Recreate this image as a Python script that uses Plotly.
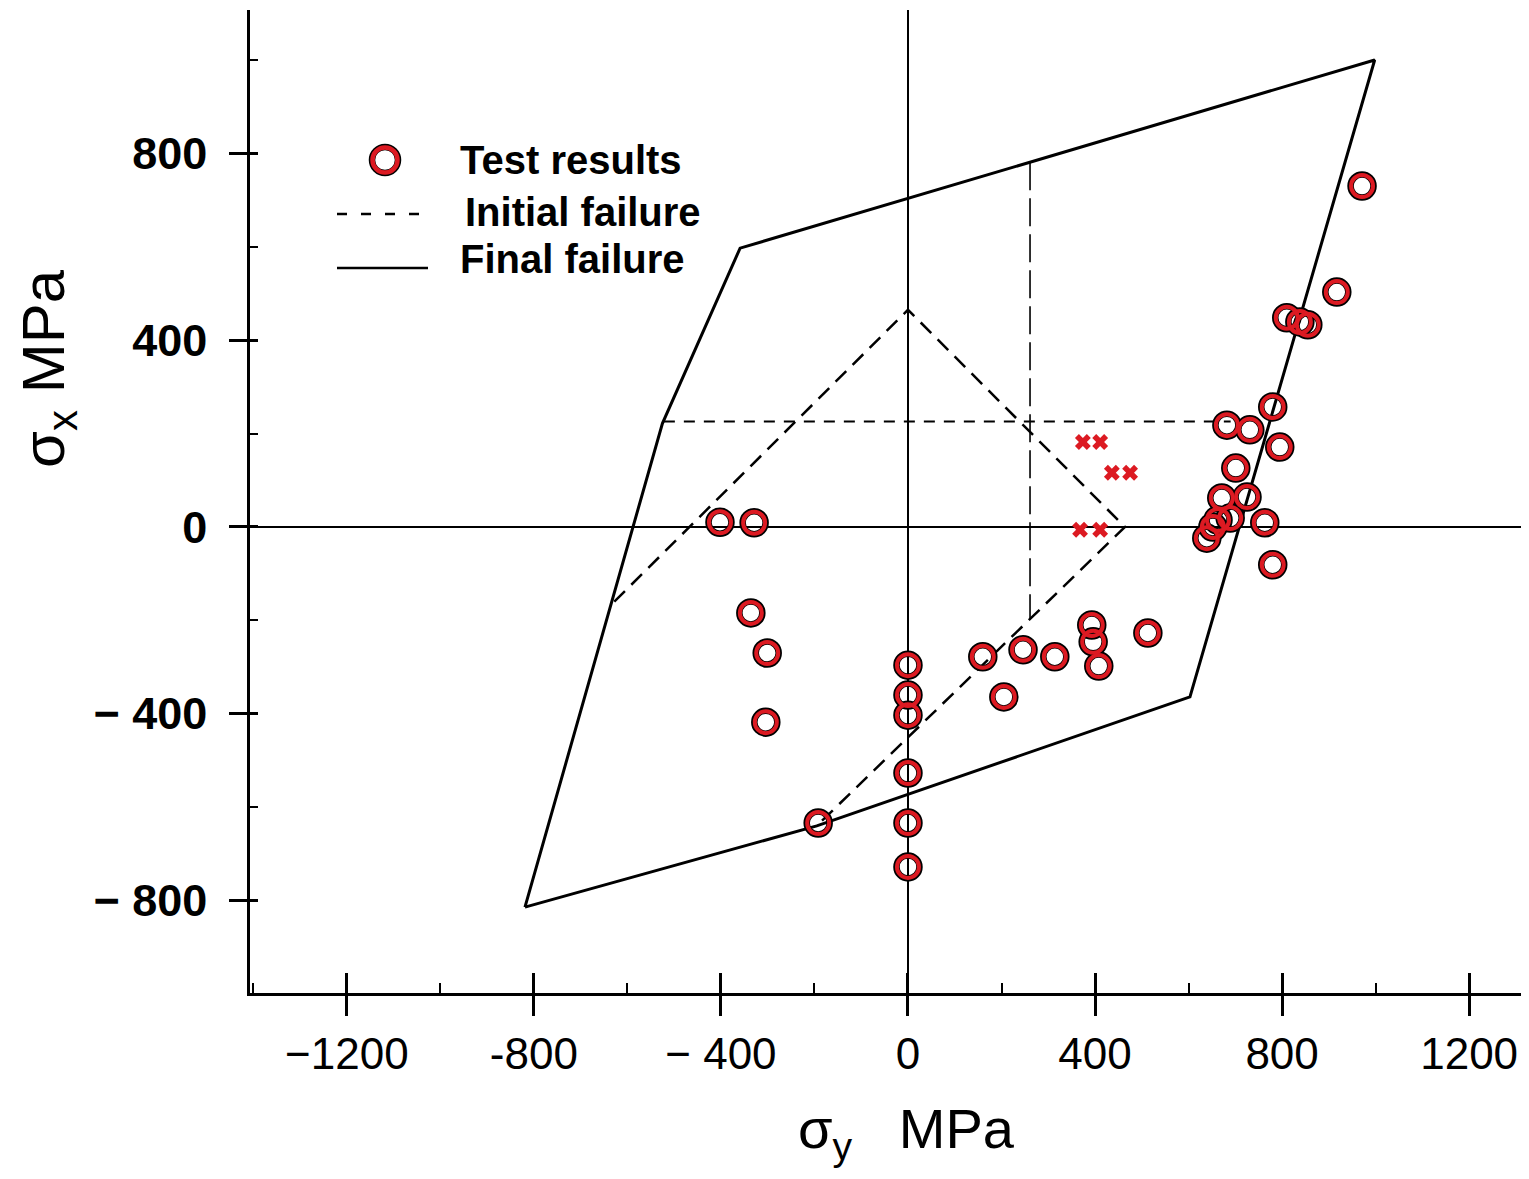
import plotly.graph_objects as go

# ---------------- data ----------------
# Final failure envelope (solid)
final_sy = [-819, -525, -359, 998, 603, -195, -819]
final_sx = [-814, 222, 597, 1000, -364, -640, -814]

# Initial failure envelope (dashed)
init_sy = [-628, 0, 464, -195]
init_sx = [-160, 465, 0, -640]

# Auxiliary dashed lines
hline_sy = [-522, 690]
hline_sx = [226, 226]
vline_sy = [261, 261]
vline_sx = [781, -197]

# Test results (open circles)
test_sy = [-402, -329, -336, -301, -304,
           0, 0, 0, 0, 0, 0,
           -192,
           160, 205, 246, 314, 393, 396, 408, 513,
           971, 917, 810, 838, 855, 780, 682, 731, 795, 701,
           671, 725, 689, 652, 639, 763, 780, 663]
test_sx = [10, 9, -184, -270, -418,
           -296, -360, -403, -527, -634, -728,
           -634,
           -278, -364, -263, -278, -210, -246, -298, -227,
           730, 503, 448, 439, 433, 257, 218, 208, 171, 126,
           62, 64, 19, 0, -24, 9, -81, 15]

# Red crosses
cross_sy = [374, 411, 436, 475, 368, 411]
cross_sx = [182, 182, 116, 116, -6, -6]

# Ticks
x_tick_vals = [-1200, -800, -400, 0, 400, 800, 1200]
x_tick_text = ["\u22121200", "-800", "\u2212 400", "0", "400", "800", "1200"]
y_tick_vals = [-800, -400, 0, 400, 800]
y_tick_text = ["\u2212 800", "\u2212 400", "0", "400", "800"]
x_minor_vals = [-1400, -1000, -600, -200, 200, 600, 1000]
y_minor_vals = [-1000, -600, -200, 200, 600, 1000]

legend_labels = ["Test results", "Initial failure", "Final failure"]
x_title = "\u03c3<sub>y</sub>\u00a0\u00a0\u00a0MPa"
y_title = "\u03c3<sub>x</sub>\u00a0MPa"

# ---------------- layout constants ----------------
# page offset of the figure (browser body margin)
OFF = 8
PAGE_W, PAGE_H = 1529, 1179
PLOT_L, PLOT_R, PLOT_T, PLOT_B = 250, 1529, 10, 993   # page pixels of plot area
W = PAGE_W - OFF
H = PAGE_H - OFF
ML = PLOT_L - OFF
MT = PLOT_T - OFF
MR = (W + OFF) - PLOT_R
MB = (H + OFF) - PLOT_B
XR = [-1407, 1328]
YR = [-998, 1107]
FONT = "Liberation Sans, Arial, Helvetica, sans-serif"
RED = "#dc1a22"
BLACK = "#000000"


def pxx(xp):
    return (xp - PLOT_L) / (PLOT_R - PLOT_L)


def pxy(yp):
    return (PLOT_B - yp) / (PLOT_B - PLOT_T)


fig = go.Figure()

# final failure
fig.add_trace(go.Scatter(x=final_sy, y=final_sx, mode="lines",
                         line=dict(color=BLACK, width=3), hoverinfo="skip"))
# initial failure
fig.add_trace(go.Scatter(x=init_sy, y=init_sx, mode="lines",
                         line=dict(color=BLACK, width=2.5, dash="15px,9px"), hoverinfo="skip"))
fig.add_trace(go.Scatter(x=hline_sy, y=hline_sx, mode="lines",
                         line=dict(color=BLACK, width=2, dash="11px,9px"), hoverinfo="skip"))
fig.add_trace(go.Scatter(x=vline_sy, y=vline_sx, mode="lines",
                         line=dict(color=BLACK, width=1.6, dash="28px,8px"), hoverinfo="skip"))

# test results: black halo + red ring
fig.add_trace(go.Scatter(x=test_sy, y=test_sx, mode="markers",
                         marker=dict(symbol="circle-open", size=23, color=BLACK,
                                     line=dict(color=BLACK, width=6.5))))
fig.add_trace(go.Scatter(x=test_sy, y=test_sx, mode="markers",
                         marker=dict(symbol="circle-open", size=22, color=RED,
                                     line=dict(color=RED, width=4))))

# red crosses (on overlay axes so those axes exist)
fig.add_trace(go.Scatter(x=cross_sy, y=cross_sx, mode="markers",
                         xaxis="x2", yaxis="y2",
                         marker=dict(symbol="x", size=14, color=RED,
                                     line=dict(width=0))))

fig.update_layout(
    width=W, height=H,
    margin=dict(l=ML, r=MR, t=MT, b=MB, pad=0),
    paper_bgcolor="white", plot_bgcolor="white",
    showlegend=False,
    xaxis=dict(range=XR, tickmode="array", tickvals=x_tick_vals, ticktext=x_tick_text,
               ticks="outside", ticklen=20, tickwidth=2.5, tickcolor=BLACK,
               showline=True, linecolor=BLACK, linewidth=2.5,
               showgrid=False, zeroline=True, zerolinecolor=BLACK, zerolinewidth=1.6,
               tickfont=dict(family=FONT, size=44, color=BLACK),
               ticklabelstandoff=0),
    xaxis2=dict(range=XR, overlaying="x", anchor="y", side="bottom",
                tickmode="array", tickvals=x_tick_vals, showticklabels=False,
                ticks="inside", ticklen=20, tickwidth=2.5, tickcolor=BLACK,
                showline=False, showgrid=False, zeroline=False,
                minor=dict(tickmode="array", tickvals=x_minor_vals, ticks="inside",
                           ticklen=10, tickwidth=2, tickcolor=BLACK)),
    yaxis=dict(range=YR, tickmode="array", tickvals=y_tick_vals, ticktext=y_tick_text,
               ticks="outside", ticklen=18, tickwidth=2.5, tickcolor=BLACK,
               showline=True, linecolor=BLACK, linewidth=2.5,
               showgrid=False, zeroline=True, zerolinecolor=BLACK, zerolinewidth=1.8,
               tickfont=dict(family=FONT, size=45, color=BLACK, weight="bold"),
               ticklabelstandoff=13),
    yaxis2=dict(range=YR, overlaying="y", anchor="x", side="left",
                tickmode="array", tickvals=y_tick_vals, showticklabels=False,
                ticks="inside", ticklen=8, tickwidth=2.5, tickcolor=BLACK,
                showline=False, showgrid=False, zeroline=False,
                minor=dict(tickmode="array", tickvals=y_minor_vals, ticks="inside",
                           ticklen=8, tickwidth=2, tickcolor=BLACK)),
)

# axis titles
fig.add_annotation(x=pxx(906), y=pxy(1132), xref="paper", yref="paper",
                   text=x_title, showarrow=False, xanchor="center", yanchor="middle",
                   font=dict(family=FONT, size=56, color=BLACK))
fig.add_annotation(x=pxx(48), y=pxy(369), xref="paper", yref="paper",
                   text=y_title, showarrow=False, textangle=-90,
                   xanchor="center", yanchor="middle",
                   font=dict(family=FONT, size=60, color=BLACK))

# legend (custom, to match the reference layout)
legend_pos = [(458, 160), (463, 212), (458, 259)]
for lab, (lx, ly) in zip(legend_labels, legend_pos):
    fig.add_annotation(x=pxx(lx), y=pxy(ly), xref="paper", yref="paper",
                       text=lab, showarrow=False, xanchor="left", yanchor="middle",
                       font=dict(family=FONT, size=40, color=BLACK, weight="bold"))

cx, cy = pxx(385), pxy(160)
fig.add_shape(type="circle", xref="paper", yref="paper", xsizemode="pixel", ysizemode="pixel",
              xanchor=cx, yanchor=cy, x0=-13, x1=13, y0=-13, y1=13,
              line=dict(color=BLACK, width=6.5))
fig.add_shape(type="circle", xref="paper", yref="paper", xsizemode="pixel", ysizemode="pixel",
              xanchor=cx, yanchor=cy, x0=-12.5, x1=12.5, y0=-12.5, y1=12.5,
              line=dict(color=RED, width=4.5))
fig.add_shape(type="line", xref="paper", yref="paper",
              x0=pxx(337), x1=pxx(420), y0=pxy(214), y1=pxy(214),
              line=dict(color=BLACK, width=2.5, dash="10px,14px"))
fig.add_shape(type="line", xref="paper", yref="paper",
              x0=pxx(337), x1=pxx(428), y0=pxy(268), y1=pxy(268),
              line=dict(color=BLACK, width=2.5))

fig.write_html("out.html")
